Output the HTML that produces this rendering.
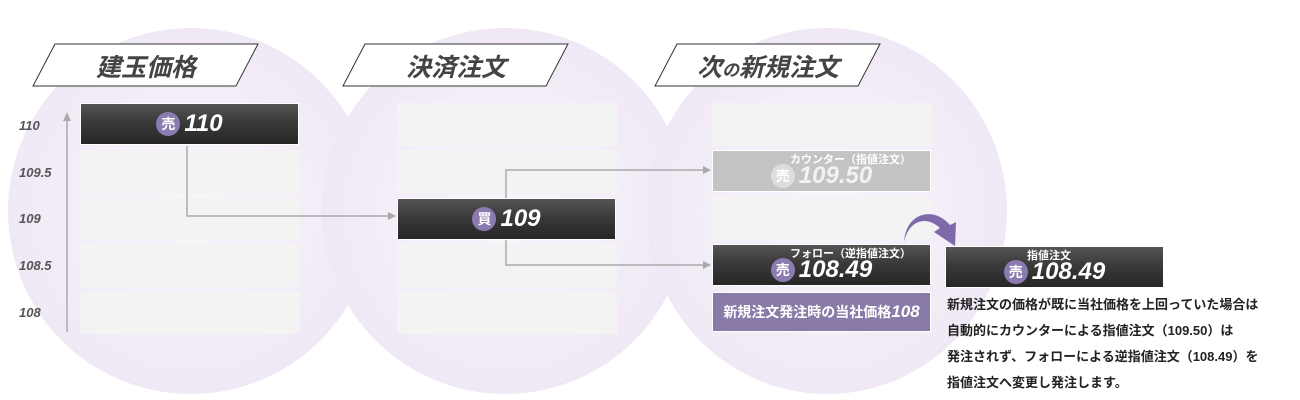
<!DOCTYPE html>
<html><head><meta charset="utf-8"><style>
*{margin:0;padding:0;box-sizing:border-box}
body{width:1300px;height:400px;background:#fff;position:relative;overflow:hidden;font-family:"Liberation Sans","Noto Sans CJK JP",sans-serif}
.c{position:absolute;border-radius:50%;background:radial-gradient(circle at 50% 50%,#f8f5fa 0%,#f1eaf6 65%,#e9def1 100%)}
.ab{position:absolute}
.row{position:absolute;width:220px;height:43px;background:#f3f3f3}
.bar{position:absolute;width:219px;height:42px;background:linear-gradient(#555 0%,#3a3a3a 45%,#262626 100%);border:1px solid #fff;color:#fff;display:flex;align-items:center;justify-content:center}
.b{display:inline-block;width:24px;height:24px;border-radius:50%;background:#8c7bb0;color:#fff;font-size:14px;font-weight:bold;text-align:center;line-height:24px;margin-right:4px}
.n{font-style:italic;font-weight:bold;font-size:24px}
.lab{position:absolute;left:19px;font-size:13px;font-style:italic;color:#555;font-weight:bold}
.sub{position:absolute;font-size:11px;font-weight:bold;color:#fff}
.txt{position:absolute;left:947px;font-size:13px;font-weight:bold;color:#222;white-space:nowrap}
</style></head><body>
<div class="c" style="left:8px;top:28px;width:366px;height:366px"></div>
<div class="c" style="left:322px;top:28px;width:366px;height:366px"></div>
<div class="c" style="left:647px;top:28px;width:360px;height:366px"></div>
<svg class="ab" style="left:0;top:0" width="1300" height="400">
<g fill="#fff" stroke="#333" stroke-width="1">
<polygon points="55,44 258,44 236,86 33,86"/>
<polygon points="365,44 568,44 546,86 343,86"/>
<polygon points="677,44 880,44 858,86 655,86"/>
</g>
<g font-family="Liberation Sans,Noto Sans CJK JP,sans-serif" font-weight="bold" font-size="25" fill="#444" font-style="italic" text-anchor="middle">
<text x="146" y="76">建玉価格</text><text x="456" y="76">決済注文</text><text x="768" y="76">次<tspan font-size="17">の</tspan>新規注文</text>
</g>
</svg>
<div class="row" style="left:80px;top:150px"></div><div class="row" style="left:80px;top:197px"></div><div class="row" style="left:80px;top:244px"></div><div class="row" style="left:80px;top:291px"></div>
<div class="row" style="left:397px;top:103px"></div><div class="row" style="left:397px;top:150px"></div><div class="row" style="left:397px;top:244px"></div><div class="row" style="left:397px;top:291px"></div>
<div class="row" style="left:712px;top:103px"></div><div class="row" style="left:712px;top:197px"></div>
<div class="lab" style="top:118px">110</div><div class="lab" style="top:165px">109.5</div><div class="lab" style="top:211px">109</div><div class="lab" style="top:258px">108.5</div><div class="lab" style="top:305px">108</div>
<svg class="ab" style="left:0;top:0" width="1300" height="400">
<g stroke="#aaa" stroke-width="1.5" fill="none">
<line x1="67" y1="332" x2="67" y2="118"/>
<polyline points="187,146 187,216 390,216"/>
<polyline points="710,170 506,170 506,265 710,265"/>
</g>
<g fill="#aaa">
<polygon points="67,112 63,121 71,121"/>
<polygon points="396,216 388,212 388,220"/>
<polygon points="711,170 703,166 703,174"/>
<polygon points="711,265 703,261 703,269"/>
</g>
<path d="M904,242 C908,222 925,214 940,228 L934,232 L955,246 L956,222 L950,225 C934,206 906,212 904,242Z" fill="#7e6aa8"/>
</svg>
<div class="bar" style="left:80px;top:103px"><span class="b">売</span><span class="n">110</span></div>
<div class="bar" style="left:397px;top:198px"><span class="b">買</span><span class="n">109</span></div>
<div class="bar" style="left:712px;top:150px;background:#c4c4c4;padding-top:10px"><span class="b" style="background:#ddd;color:#fff">売</span><span class="n" style="color:#f2f2f2">109.50</span></div>
<div class="sub" style="left:790px;top:151px">カウンター（指値注文）</div>
<div class="bar" style="left:712px;top:244px;padding-top:10px"><span class="b">売</span><span class="n">108.49</span></div>
<div class="sub" style="left:790px;top:245px">フォロー（逆指値注文）</div>
<div class="bar" style="left:945px;top:246px;padding-top:10px"><span class="b">売</span><span class="n">108.49</span></div>
<div class="sub" style="left:1027px;top:247px">指値注文</div>
<div class="ab" style="left:712px;top:292px;width:219px;height:40px;background:#8a7aa8;border:1px solid #fff;color:#fff;font-weight:bold;font-size:14px;display:flex;align-items:center;justify-content:center">新規注文発注時の当社価格<i style="font-size:17px">108</i></div>
<div class="txt" style="top:294px">新規注文の価格が既に当社価格を上回っていた場合は</div>
<div class="txt" style="top:320px">自動的にカウンターによる指値注文（109.50）は</div>
<div class="txt" style="top:346px">発注されず、フォローによる逆指値注文（108.49）を</div>
<div class="txt" style="top:372px">指値注文へ変更し発注します。</div>
</body></html>
